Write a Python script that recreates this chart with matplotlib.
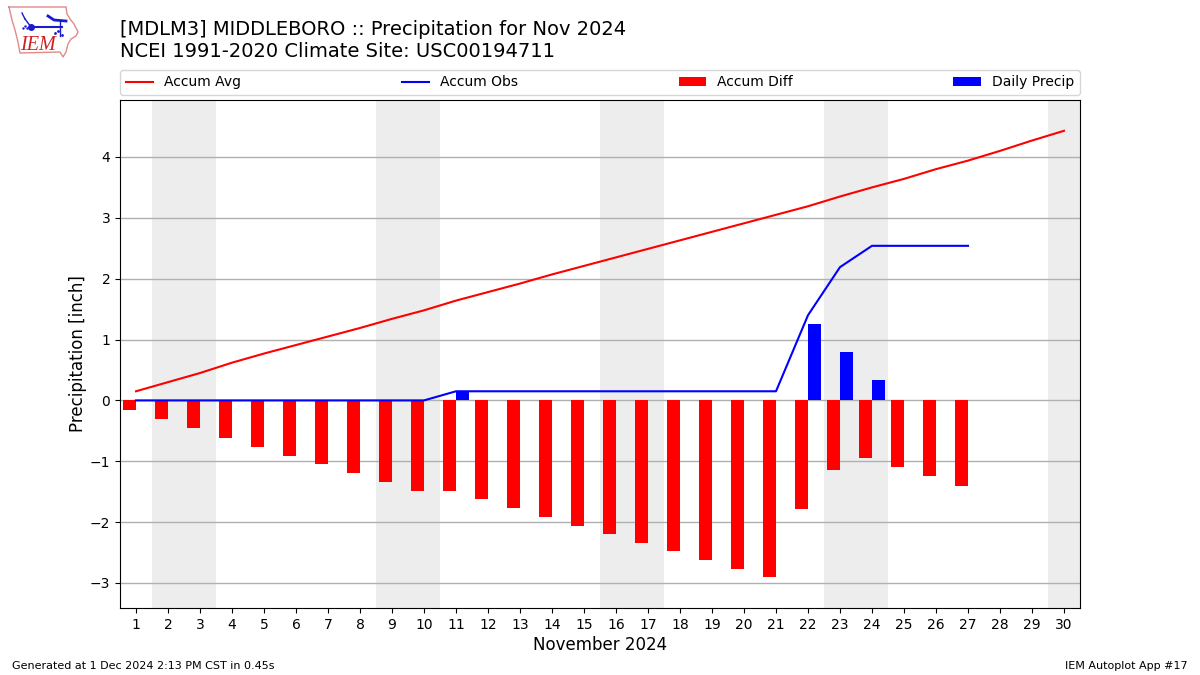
import matplotlib
matplotlib.use("Agg")
import matplotlib.pyplot as plt
import numpy as np

days = list(range(1, 31))
accum_avg = [0.15,0.30,0.45,0.62,0.77,0.91,1.05,1.19,1.34,1.48,1.64,1.78,1.92,2.07,2.21,
             2.35,2.49,2.63,2.77,2.91,3.05,3.19,3.35,3.50,3.64,3.80,3.94,4.10,4.27,4.43]
obs_days = list(range(1, 28))
accum_obs = [0,0,0,0,0,0,0,0,0,0,0.15,0.15,0.15,0.15,0.15,0.15,0.15,0.15,0.15,0.15,0.15,
             1.40,2.19,2.54,2.54,2.54,2.54]
accum_diff = [-0.15,-0.30,-0.45,-0.62,-0.77,-0.91,-1.05,-1.19,-1.34,-1.49,-1.49,-1.62,-1.77,
              -1.92,-2.06,-2.20,-2.34,-2.48,-2.62,-2.77,-2.90,-1.79,-1.15,-0.95,-1.10,-1.25,-1.40]
daily_precip = [0,0,0,0,0,0,0,0,0,0,0.15,0,0,0,0,0,0,0,0,0,0,1.25,0.79,0.33,0,0,0]
weekends = [(1.5,3.5),(8.5,10.5),(15.5,17.5),(22.5,24.5),(29.5,31.5)]

W, H = 1200, 675
fig = plt.figure(figsize=(12, 6.75), dpi=100)
ax = fig.add_axes([120/W, 1-608/H, 960/W, 508/H])

for a, b in weekends:
    ax.axvspan(a, b, color="#ededed", lw=0, zorder=0)
ax.grid(axis="y", color="#b0b0b0", lw=1, zorder=1)
ax.set_axisbelow(True)

ax.bar(obs_days, accum_diff, width=-0.4, align="edge", color="red", label="Accum Diff", zorder=2)
ax.bar(obs_days, daily_precip, width=0.4, align="edge", color="blue", label="Daily Precip", zorder=2)
ax.plot(days, accum_avg, color="red", lw=1.5, label="Accum Avg", zorder=3)
ax.plot(obs_days, accum_obs, color="blue", lw=1.5, label="Accum Obs", zorder=3)

ax.set_xlim(0.5, 30.5)
ax.set_ylim(-3.411, 4.936)
ax.set_xticks(days)
ax.set_yticks([-3,-2,-1,0,1,2,3,4])
ax.set_yticklabels(["\u22123","\u22122","\u22121","0","1","2","3","4"])
ax.tick_params(labelsize=10)
ax.set_xlabel("November 2024", fontsize=12, labelpad=3)
ax.set_ylabel("Precipitation [inch]", fontsize=12, labelpad=2)

h, lab = ax.get_legend_handles_labels()
order = [lab.index(x) for x in ["Accum Avg","Accum Obs","Accum Diff","Daily Precip"]]
ax.legend([h[i] for i in order], [lab[i] for i in order], ncol=4, mode="expand",
          loc="lower left", fontsize=10, borderaxespad=0.0,
          bbox_to_anchor=(0, 1.0+5/508, 1, 0.05), bbox_transform=ax.transAxes)

fig.text(120/W, 1-29.4/H, "[MDLM3] MIDDLEBORO :: Precipitation for Nov 2024", fontsize=14, va="center", ha="left")
fig.text(120/W, 1-51.5/H, "NCEI 1991-2020 Climate Site: USC00194711", fontsize=14, va="center", ha="left")
fig.text(12/W, 1-666/H, "Generated at 1 Dec 2024 2:13 PM CST in 0.45s", fontsize=8, va="center", ha="left")
fig.text(1188/W, 1-666/H, "IEM Autoplot App #17", fontsize=8, va="center", ha="right")

# logo drawn in pixel coordinates
lg = fig.add_axes([0, 1-60/H, 80/W, 60/H])
lg.set_xlim(0, 80); lg.set_ylim(60, 0); lg.axis("off")
outline_x = [9,66,67,70,74,78,76,71,68,66,63,60,20,18,15,12,9]
outline_y = [7,7,14,19,24,32,36,39,44,52,57,52,53,42,30,20,7]
lg.plot(outline_x, outline_y, color="#e08a8a", lw=1)
lg.plot([31,62],[27,27], color="#1a1ad0", lw=1.5)
lg.plot([25,31],[19,27], color="#1a1ad0", lw=1)
lg.plot([22,25],[13,19], color="#1a1ad0", lw=1)
lg.plot([60,60],[21,36], color="#1a1ad0", lw=1)
lg.plot([48,54,66],[16,20,21], color="#1a1ad0", lw=2)
lg.plot([31],[27], "o", color="#1a1ad0", ms=4)
lg.plot([55,58,62],[33,31,35], ".", color="#1a1ad0", ms=2)
lg.plot([23,25,27],[28,26,28], ".", color="#1a1ad0", ms=1.5)
lg.text(37.5, 46, "IEM", color="#cc2222", fontsize=14.5, family="Liberation Serif", style="italic",
        ha="center", va="center")

fig.savefig("out.png", dpi=100)
